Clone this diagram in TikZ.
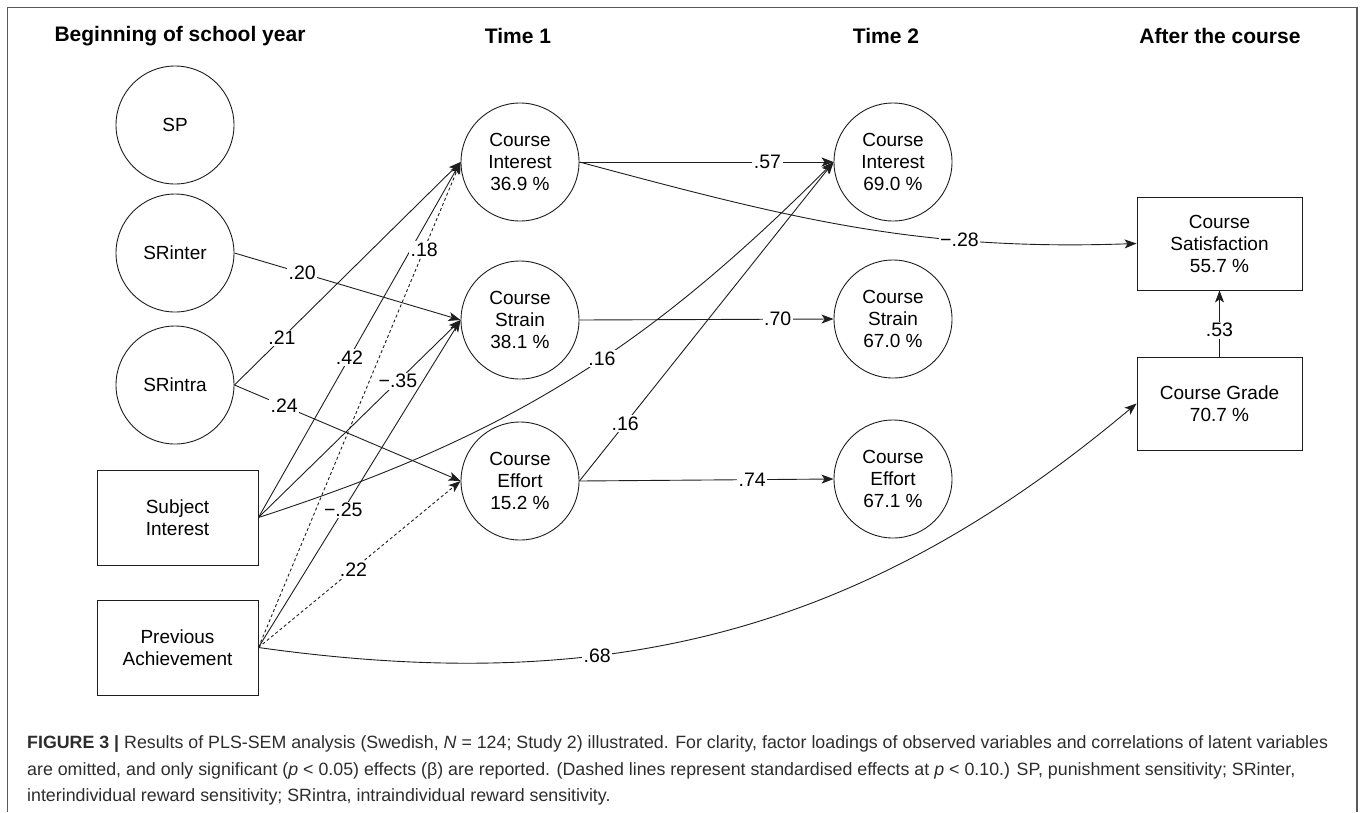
\documentclass[tikz,border=0pt]{standalone}
\usepackage{fontspec}
\setmainfont{Liberation Sans}
\usetikzlibrary{arrows.meta, positioning}

\definecolor{linegray}{RGB}{30,30,30}
\definecolor{framegray}{RGB}{90,90,90}
\definecolor{captext}{RGB}{45,45,45}

\begin{document}
\begin{tikzpicture}[x=1pt, y=-1pt,
    every node/.style={font=\fontsize{19}{22}\selectfont},
    latent/.style={circle, draw=linegray, line width=0.9pt, minimum size=118pt, inner sep=0pt, align=center},
    manifest/.style={rectangle, draw=linegray, line width=0.9pt, minimum width=161pt, minimum height=95pt, align=center},
    effect/.style={draw=linegray, line width=0.9pt, -{Stealth[length=12pt, width=9pt, inset=3pt]}},
    weakeffect/.style={effect, dash pattern=on 3pt off 2.5pt},
    coef/.style={fill=white, inner sep=1.5pt, font=\fontsize{19.5}{22}\selectfont},
    header/.style={font=\fontsize{21}{24}\selectfont\bfseries},
    caption/.style={anchor=west, inner sep=0pt, text=captext, font=\fontsize{17.8}{20}\selectfont}]
    \useasboundingbox (0,0) rectangle (1360,812);

    % Frame
    \draw[framegray, line width=1.2pt] (7.5,812) -- (7.5,7.5) -- (1357,7.5) -- (1357,812);

    % Column headings
    \node[header] (hbeg) at (180,36) {Beginning of school year};
    \node[header] (htone) at (518,36) {Time 1};
    \node[header] (httwo) at (886,36) {Time 2};
    \node[header] (hend) at (1220,36) {After the course};

    % Beginning of school year
    \node[latent] (sp) at (175,125) {SP};
    \node[latent] (srinter) at (175,253) {SRinter};
    \node[latent] (srintra) at (175,385) {SRintra};
    \node[manifest] (subint) at (177.5,517.5) {Subject\\Interest};
    \node[manifest] (prevach) at (177.5,647.5) {Previous\\Achievement};

    % Time 1
    \node[latent] (cione) at (520,162) {Course\\Interest\\36.9 \%};
    \node[latent] (csone) at (520,320) {Course\\Strain\\38.1 \%};
    \node[latent] (ceone) at (520,481) {Course\\Effort\\15.2 \%};

    % Time 2
    \node[latent] (citwo) at (893,162) {Course\\Interest\\69.0 \%};
    \node[latent] (cstwo) at (893,319) {Course\\Strain\\67.0 \%};
    \node[latent] (cetwo) at (893,479) {Course\\Effort\\67.1 \%};

    % After the course
    \node[manifest, minimum width=165pt, minimum height=93pt] (csat) at (1219.5,243.5) {Course\\Satisfaction\\55.7 \%};
    \node[manifest, minimum width=165pt, minimum height=93pt] (cgrade) at (1219.5,403.5) {Course Grade\\70.7 \%};

    % Effects on Time 1
    \draw[effect] (srinter.east) -- node[coef, pos=0.3] {.20} (csone.west);
    \draw[effect] (srintra.east) -- node[coef, pos=0.21] {.21} (cione.west);
    \draw[effect] (srintra.east) -- node[coef, pos=0.22] {.24} (ceone.west);
    \draw[effect] (subint.east) -- node[coef, pos=0.45] {.42} (cione.west);
    \draw[effect] (subint.east) -- node[coef, pos=0.69] {−.35} (csone.west);
    \draw[weakeffect] (prevach.east) -- node[coef, pos=0.82] {.18} (cione.west);
    \draw[effect] (prevach.east) -- node[coef, pos=0.42] {−.25} (csone.west);
    \draw[weakeffect] (prevach.east) -- node[coef, pos=0.47] {.22} (ceone.west);

    % Effects on Time 2
    \draw[effect] (cione.east) -- node[coef, pos=0.74] {.57} (citwo.west);
    \draw[effect] (csone.east) -- node[coef, pos=0.78] {.70} (cstwo.west);
    \draw[effect] (ceone.east) -- node[coef, pos=0.68] {.74} (cetwo.west);
    \draw[effect] (ceone.east) -- node[coef, pos=0.18] {.16} (citwo.west);
    \draw[effect] (subint.east) to[out=18, in=-135] node[coef, pos=0.56] {.16} (citwo.west);

    % Effects after the course
    \draw[effect] (cione.east) to[out=-15, in=182] node[coef, pos=0.7] {−.28} (csat.west);
    \draw[effect] (cgrade.north) -- node[coef, pos=0.4] {.53} (csat.south);
    \draw[effect] (prevach.east) to[out=-8, in=-140] node[coef, pos=0.35] {.68} (cgrade.west);

    % Caption
    \node[caption] (capone) at (27,744) {\textbf{FIGURE 3 |} Results of PLS-SEM analysis (Swedish, \textit{N} = 124; Study 2) illustrated. For clarity, factor loadings of observed variables and correlations of latent variables};
    \node[caption] (captwo) at (27,771) {are omitted, and only significant (\textit{p} < 0.05) effects (β) are reported. (Dashed lines represent standardised effects at \textit{p} < 0.10.) SP, punishment sensitivity; SRinter,};
    \node[caption] (capthree) at (27,797) {interindividual reward sensitivity; SRintra, intraindividual reward sensitivity.};
\end{tikzpicture}
\end{document}
